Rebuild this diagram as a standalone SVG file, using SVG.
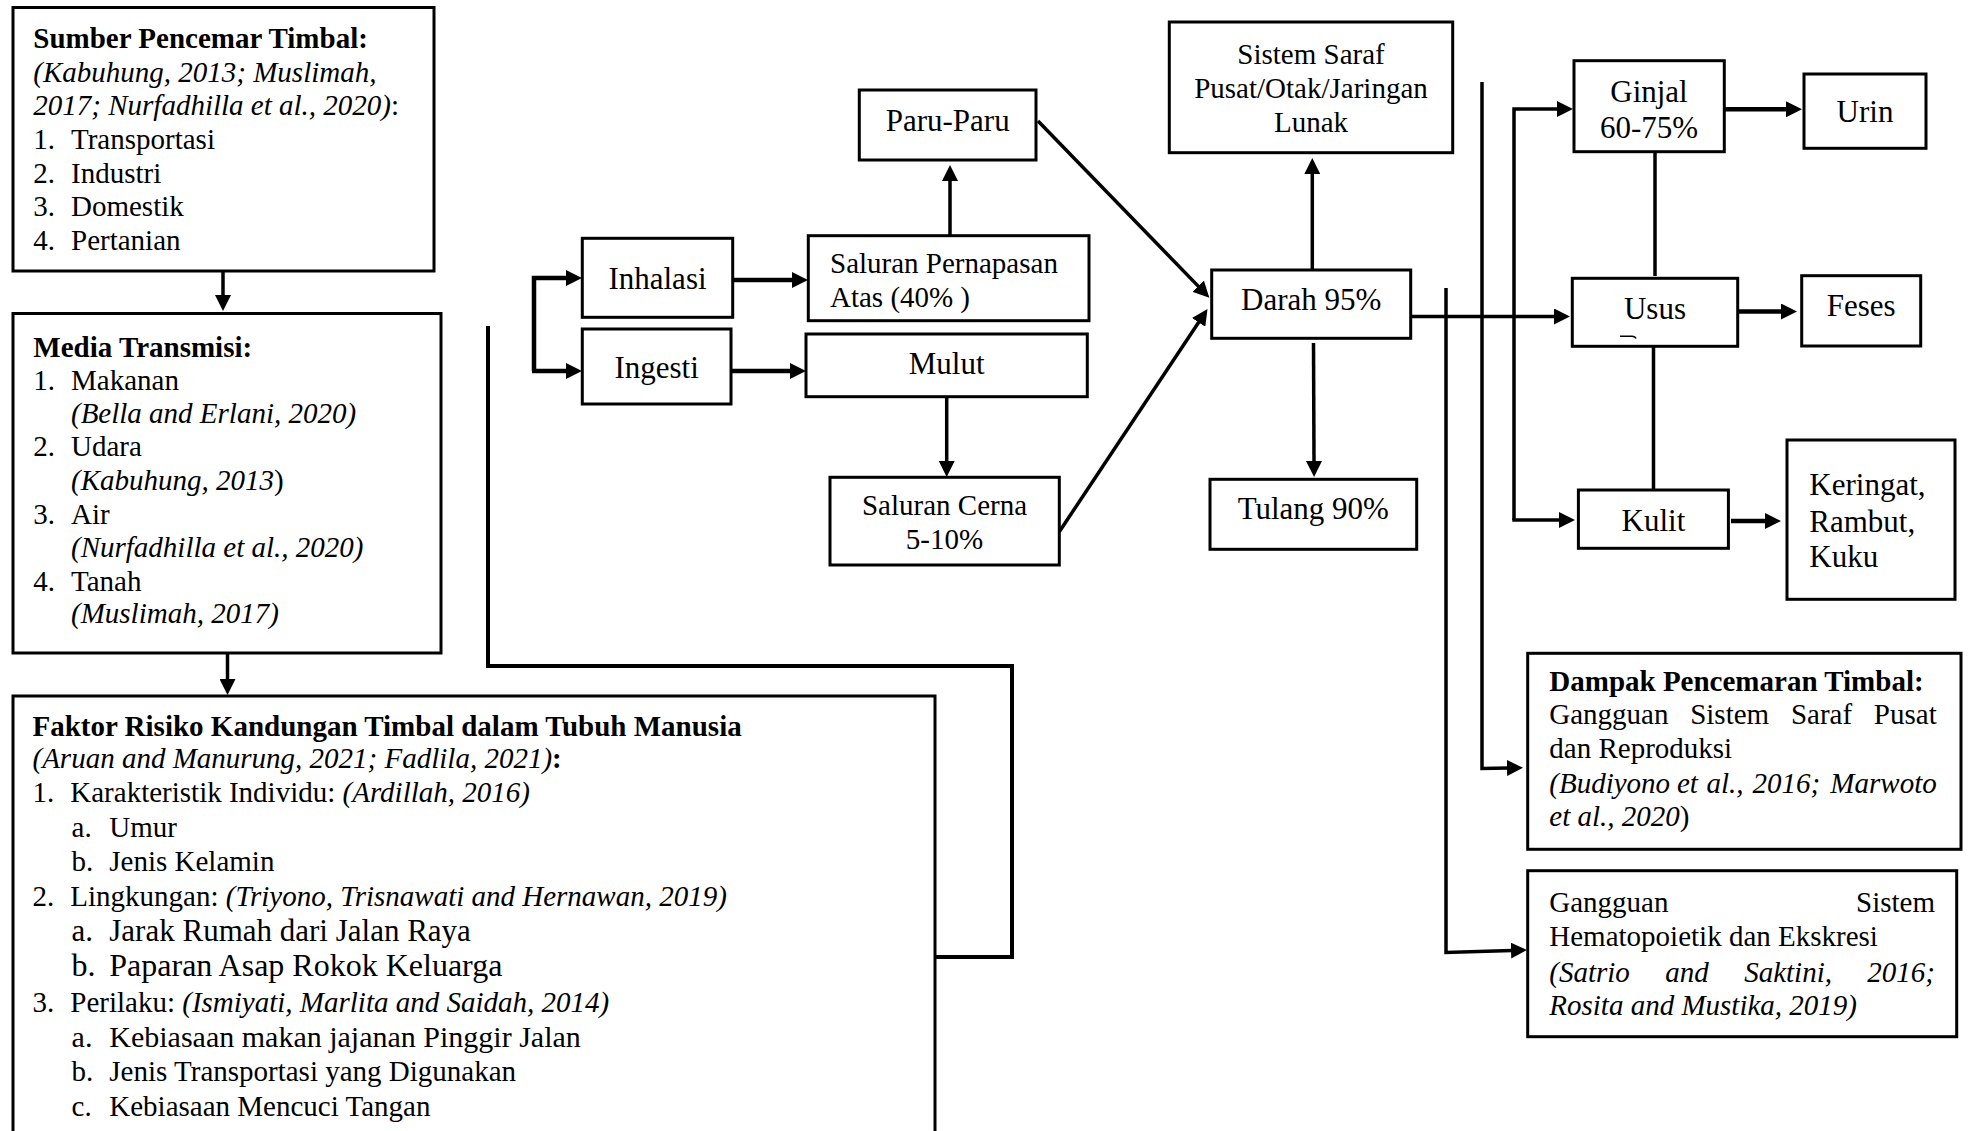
<svg xmlns="http://www.w3.org/2000/svg" width="1968" height="1131" viewBox="0 0 1968 1131">
<style>
.box{fill:#fff;stroke:#000;stroke-width:3}
.ln{fill:none;stroke:#000;stroke-width:3.5}
.th{stroke-width:4.5}
text{font-family:'Liberation Serif','Times New Roman',serif;font-size:29px;fill:#000}
.m{font-size:31px}
.c{text-anchor:middle}
.e{text-anchor:end}
.b{font-weight:bold}
.i{font-style:italic}
</style>
<defs>
<marker id="ah" markerUnits="userSpaceOnUse" markerWidth="16" markerHeight="16" viewBox="0 0 16 16" refX="1" refY="8" orient="auto">
<path d="M0,0 L16,8 L0,16 z" fill="#000"/>
</marker>
</defs>
<rect width="1968" height="1131" fill="#fff"/>

<g id="connectors">
<path class="ln" d="M223,271 V296" marker-end="url(#ah)"/>
<path class="ln" d="M227.5,653 V680" marker-end="url(#ah)"/>
<path class="ln th" d="M935,957 H1012 V666 H488 V326" style="stroke-width:4"/>
<path class="ln th" d="M534,371 V278 H567" marker-end="url(#ah)"/>
<path class="ln th" d="M532,371 H567" marker-end="url(#ah)"/>
<path class="ln th" d="M732,280 H793" marker-end="url(#ah)"/>
<path class="ln th" d="M731,371 H791" marker-end="url(#ah)"/>
<path class="ln" d="M950,235 V180" marker-end="url(#ah)"/>
<path class="ln" d="M946.7,397 V462" marker-end="url(#ah)"/>
<path class="ln" d="M1038,121 L1198.9,286.9" marker-end="url(#ah)"/>
<path class="ln" d="M1059.3,531.7 L1199.2,321.5" marker-end="url(#ah)"/>
<path class="ln" d="M1312.3,270 V173" marker-end="url(#ah)"/>
<path class="ln" d="M1313.5,343 L1314,462" marker-end="url(#ah)"/>
<path class="ln" d="M1411,316.5 H1555" marker-end="url(#ah)"/>
<path class="ln" d="M1446,288 V952.5 L1512,950.5" marker-end="url(#ah)"/>
<path class="ln" d="M1482,82 V768.5 L1508,768" marker-end="url(#ah)"/>
<path class="ln" d="M1514,520 V109 H1558" marker-end="url(#ah)"/>
<path class="ln" d="M1512.3,520 H1560" marker-end="url(#ah)"/>
<path class="ln th" d="M1724,109.3 H1787" marker-end="url(#ah)"/>
<path class="ln th" d="M1737.7,311.5 H1782" marker-end="url(#ah)"/>
<path class="ln th" d="M1731,521 H1766" marker-end="url(#ah)"/>
<path class="ln" d="M1655,151.7 V276"/>
<path class="ln" d="M1653.5,346 V490"/>
</g>

<g id="sumber">
<rect class="box" x="13" y="7.5" width="421" height="263.5"/>
<text x="33.3" y="48.1" class="b">Sumber Pencemar Timbal:</text>
<text x="33.3" y="81.6" class="i">(Kabuhung, 2013; Muslimah,</text>
<text x="33.3" y="115"><tspan class="i">2017; Nurfadhilla et al., 2020)</tspan>:</text>
<text x="33.3" y="148.5">1.</text><text x="71" y="148.5">Transportasi</text>
<text x="33.3" y="182.8">2.</text><text x="71" y="182.8">Industri</text>
<text x="33.3" y="216.3">3.</text><text x="71" y="216.3">Domestik</text>
<text x="33.3" y="250.2">4.</text><text x="71" y="250.2">Pertanian</text>
</g>

<g id="media">
<rect class="box" x="13" y="313.5" width="428" height="339.5"/>
<text x="33.3" y="356.5" class="b">Media Transmisi:</text>
<text x="33.3" y="390">1.</text><text x="71" y="390">Makanan</text>
<text x="71" y="423.4" class="i">(Bella and Erlani, 2020)</text>
<text x="33.3" y="456">2.</text><text x="71" y="456">Udara</text>
<text x="71" y="489.5"><tspan class="i">(Kabuhung, 2013</tspan>)</text>
<text x="33.3" y="523.8">3.</text><text x="71" y="523.8">Air</text>
<text x="71" y="557.3" class="i">(Nurfadhilla et al., 2020)</text>
<text x="33.3" y="590.8">4.</text><text x="71" y="590.8">Tanah</text>
<text x="71" y="623.4" class="i">(Muslimah, 2017)</text>
</g>

<g id="faktor">
<rect class="box" x="13" y="696" width="922" height="460"/>
<text x="32.5" y="736" class="b">Faktor Risiko Kandungan Timbal dalam Tubuh Manusia</text>
<text x="32.5" y="768.3"><tspan class="i">(Aruan and Manurung, 2021; Fadlila, 2021)</tspan><tspan class="b">:</tspan></text>
<text x="32.5" y="801.7">1.</text><text x="70.3" y="801.7">Karakteristik Individu: <tspan class="i">(Ardillah, 2016)</tspan></text>
<text x="71.6" y="836.7">a.</text><text x="109.3" y="836.7">Umur</text>
<text x="71.6" y="870.7">b.</text><text x="109.3" y="870.7">Jenis Kelamin</text>
<text x="32.5" y="905.7">2.</text><text x="70.3" y="905.7">Lingkungan: <tspan class="i">(Triyono, Trisnawati and Hernawan, 2019)</tspan></text>
<text x="71.6" y="941" style="font-size:31px">a.</text><text x="109.3" y="941" style="font-size:31px">Jarak Rumah dari Jalan Raya</text>
<text x="71.6" y="976" style="font-size:32px">b.</text><text x="109.3" y="976" style="font-size:32px">Paparan Asap Rokok Keluarga</text>
<text x="32.5" y="1011.7">3.</text><text x="70.3" y="1011.7">Perilaku: <tspan class="i">(Ismiyati, Marlita and Saidah, 2014)</tspan></text>
<text x="71.6" y="1046.7" style="font-size:30px">a.</text><text x="109.3" y="1046.7" style="font-size:30px">Kebiasaan makan jajanan Pinggir Jalan</text>
<text x="71.6" y="1080.7">b.</text><text x="109.3" y="1080.7">Jenis Transportasi yang Digunakan</text>
<text x="71.6" y="1115.7">c.</text><text x="109.3" y="1115.7">Kebiasaan Mencuci Tangan</text>
</g>

<g id="inhalasi">
<rect class="box" x="582.3" y="238.3" width="150.4" height="79"/>
<text x="657.5" y="289" class="m c">Inhalasi</text>
</g>
<g id="ingesti">
<rect class="box" x="582.3" y="329" width="148.7" height="75"/>
<text x="656.6" y="377.7" class="m c">Ingesti</text>
</g>
<g id="saluran-pernapasan">
<rect class="box" x="808.3" y="235.7" width="280.7" height="85"/>
<text x="830" y="273.3">Saluran Pernapasan</text>
<text x="830" y="307.3">Atas (40%<tspan dx="7">)</tspan></text>
</g>
<g id="paru">
<rect class="box" x="859.3" y="90" width="176.7" height="70"/>
<text x="947.7" y="130.7" class="m c">Paru-Paru</text>
</g>
<g id="mulut">
<rect class="box" x="806" y="334" width="281.3" height="62.7"/>
<text x="946.7" y="374.3" class="m c">Mulut</text>
</g>
<g id="saluran-cerna">
<rect class="box" x="830" y="477.3" width="229.3" height="87.7"/>
<text x="944.5" y="515" class="c">Saluran Cerna</text>
<text x="944.5" y="549.3" class="c">5-10%</text>
</g>
<g id="sistem-saraf">
<rect class="box" x="1169.3" y="22" width="283.4" height="130.7"/>
<text x="1311" y="64" class="c">Sistem Saraf</text>
<text x="1311" y="97.7" class="c">Pusat/Otak/Jaringan</text>
<text x="1311" y="131.7" class="c">Lunak</text>
</g>
<g id="darah">
<rect class="box" x="1211.7" y="270" width="199" height="68.3"/>
<text x="1311.2" y="310" class="m c">Darah 95%</text>
</g>
<g id="tulang">
<rect class="box" x="1210" y="479.3" width="206.7" height="70"/>
<text x="1313.3" y="519.3" class="m c">Tulang 90%</text>
</g>
<g id="ginjal">
<rect class="box" x="1574" y="60.7" width="150.3" height="91"/>
<text x="1649" y="101.7" class="m c">Ginjal</text>
<text x="1649" y="138.3" class="m c">60-75%</text>
</g>
<g id="urin">
<rect class="box" x="1804" y="74" width="122" height="74.3"/>
<text x="1865" y="121.7" class="m c">Urin</text>
</g>
<g id="usus">
<rect class="box" x="1572.3" y="278.3" width="165.4" height="68"/>
<text x="1655" y="318.5" class="m c">Usus</text>
<path d="M1620,336.3 H1632 Q1635,336.3 1636,338.5" fill="none" stroke="#000" stroke-width="1.5"/>
</g>
<g id="feses">
<rect class="box" x="1801.7" y="275.7" width="119" height="70.3"/>
<text x="1861.2" y="316" class="m c">Feses</text>
</g>
<g id="kulit">
<rect class="box" x="1578.4" y="490" width="150" height="58.3"/>
<text x="1653.4" y="530.7" class="m c">Kulit</text>
</g>
<g id="keringat">
<rect class="box" x="1787" y="440" width="168" height="159.3"/>
<text x="1809.3" y="495" class="m">Keringat,</text>
<text x="1809.3" y="531.7" class="m">Rambut,</text>
<text x="1809.3" y="567.3" class="m">Kuku</text>
</g>
<g id="dampak">
<rect class="box" x="1527.7" y="653.3" width="433.3" height="196"/>
<text x="1549.3" y="690.7" class="b">Dampak Pencemaran Timbal:</text>
<text y="724.3"><tspan x="1549.3">Gangguan</tspan> <tspan x="1690.2">Sistem</tspan> <tspan x="1790.9">Saraf</tspan> <tspan x="1936.7" text-anchor="end">Pusat</tspan></text>
<text x="1549.3" y="758.3">dan Reproduksi</text>
<text y="793.3" class="i"><tspan x="1549.3">(Budiyono</tspan> <tspan x="1677">et</tspan> <tspan x="1706.5">al.,</tspan> <tspan x="1752.5">2016;</tspan> <tspan x="1936.7" text-anchor="end">Marwoto</tspan></text>
<text x="1549.3" y="825.7"><tspan class="i">et al., 2020</tspan>)</text>
</g>
<g id="gangguan">
<rect class="box" x="1527.7" y="870.7" width="429" height="166"/>
<text y="911.7"><tspan x="1549.3">Gangguan</tspan> <tspan x="1935" text-anchor="end">Sistem</tspan></text>
<text x="1549.3" y="946">Hematopoietik dan Ekskresi</text>
<text y="981.7" class="i"><tspan x="1549.3">(Satrio</tspan> <tspan x="1665.3">and</tspan> <tspan x="1744.2">Saktini,</tspan> <tspan x="1935" text-anchor="end">2016;</tspan></text>
<text x="1549.3" y="1015" class="i">Rosita and Mustika, 2019)</text>
</g>
</svg>
